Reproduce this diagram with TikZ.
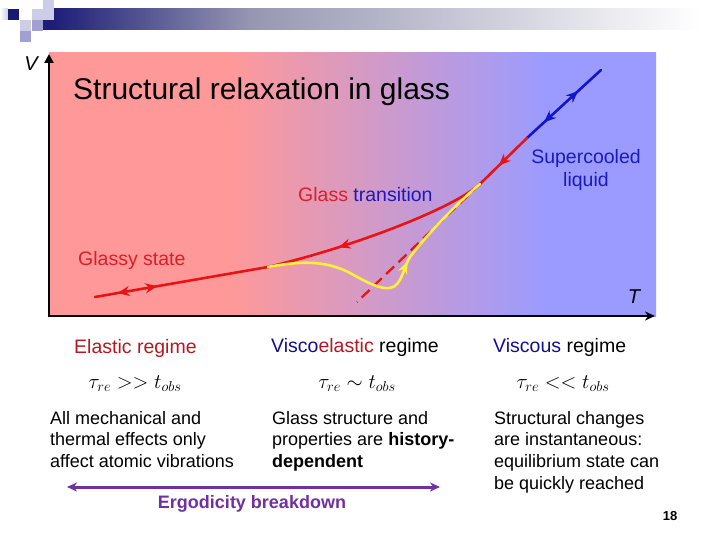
\documentclass[tikz,border=0pt]{standalone}
\usepackage{fontspec}
\setmainfont{Liberation Sans}
\usetikzlibrary{arrows.meta,decorations.markings}
\definecolor{pinkbg}{RGB}{255,153,153}
\definecolor{bluebg}{RGB}{155,155,255}
\definecolor{bannernavy}{RGB}{30,30,120}
\definecolor{bannergrey}{RGB}{150,150,178}
\definecolor{sqnavy}{RGB}{25,25,110}
\definecolor{sqpale}{RGB}{205,205,232}
\definecolor{sqmid}{RGB}{160,160,210}
\definecolor{curvered}{RGB}{232,20,20}
\definecolor{curveblue}{RGB}{20,20,205}
\definecolor{curveyellow}{RGB}{255,238,60}
\definecolor{txtred}{RGB}{220,30,40}
\definecolor{txtdarkred}{RGB}{180,24,32}
\definecolor{txtblue}{RGB}{26,26,190}
\definecolor{txtnavy}{RGB}{16,16,140}
\definecolor{ergpurple}{RGB}{112,48,160}
% plot background: pink, then pink to blue, then blue
\pgfdeclarehorizontalshading{plotbg}{100bp}{color(0bp)=(pinkbg); color(39.9bp)=(pinkbg);
  color(65.9bp)=(bluebg); color(100bp)=(bluebg)}

\begin{document}
\begin{tikzpicture}[x=1pt,y=-1pt,
    tip/.tip={Stealth[length=12pt,width=10pt]},
    curve/.style={line width=2.6pt, line cap=round},
    fwdarrow/.style={decoration={markings,
        mark=at position #1 with {\arrow{tip}}}, postaction={decorate}},
    twoway/.style 2 args={decoration={markings,
        mark=at position #1 with {\arrowreversed{tip}},
        mark=at position #2 with {\arrow{tip}}}, postaction={decorate}},
    lbl/.style={inner sep=0pt, font=\fontsize{19.5}{23}\selectfont},
    desc/.style={inner sep=0pt, anchor=north west, align=left,
        font=\fontsize{18}{21.7}\selectfont},
    formula/.style={inner sep=0pt, font=\fontsize{20}{24}\selectfont}
  ]
    \useasboundingbox (0,0) rectangle (720,540);
    % banner and corner squares
    \fill[bannernavy] (43,9) rectangle (53,30);
    \shade[left color=bannernavy, right color=bannergrey] (53,9) rectangle (250,30);
    \shade[left color=bannergrey, right color=white] (250,9) rectangle (700,30);
    \shade[left color=white, right color=sqpale] (0,9) rectangle (8,20);
    \foreach \x/\y/\c in {8/9/sqnavy, 32/9/sqpale, 43/-2/sqpale, 43/9/sqpale,
                          20/20/sqpale, 32/20/sqmid, 20/31/sqmid}
      \fill[\c] (\x,\y) rectangle ++(11,11);
    % plot background
    \shade[shading=plotbg] (49,53) rectangle (656,316);
    % axes
    \coordinate (origin) at (49,316);
    \coordinate (vtop) at (49,54);
    \coordinate (tright) at (655,316);
    \draw[line width=2.6pt, -{Triangle[length=9pt,width=9pt]}] (49,317.3) -- (vtop);
    \draw[line width=2.6pt, -{Stealth[length=10pt,width=9pt]}] (47.7,316) -- (tright);
    \node[lbl, font=\fontsize{20}{24}\selectfont\itshape] (vlabel) at (31,64) {V};
    \node[lbl, font=\fontsize{20}{24}\selectfont\itshape] (tlabel) at (634,297) {T};
    \node[inner sep=0pt, anchor=west, font=\fontsize{30}{36}\selectfont] (title) at (73,92)
      {Structural relaxation in glass};
    % curve points
    \coordinate (liqtop) at (601,70);
    \coordinate (liqmid) at (527,138);
    \coordinate (tg) at (480,184);
    \coordinate (glstart) at (268,267);
    \coordinate (glend) at (95,297);
    \coordinate (dashend) at (357,302);
    \draw[curve, curveblue, twoway={0.31}{0.77}] (liqtop) -- (liqmid);
    \draw[curve, curvered, fwdarrow=0.6] (liqmid) -- (tg);
    \draw[curve, curvered, fwdarrow=0.68] (tg) .. controls (455,207) and (360,245) .. (glstart);
    \draw[curve, curvered, twoway={0.64}{0.87}] (glstart) -- (glend);
    \draw[curvered, line width=2.3pt, dash pattern=on 11pt off 6pt] (tg) -- (dashend);
    \draw[curve, curveyellow, fwdarrow=0.6] (glstart)
      .. controls (300,261) and (325,260) .. (350,273)
      .. controls (370,284) and (380,289) .. (390,288)
      .. controls (402,286) and (403,268) .. (410,257)
      .. controls (425,237) and (455,205) .. (tg);
    % plot labels
    \node[lbl, anchor=west] (gtrans) at (298,195)
      {\textcolor{txtred}{Glass} \textcolor{txtblue}{transition}};
    \node[lbl, align=center, text=txtblue] (scliquid) at (586,170) {Supercooled\\liquid};
    \node[lbl, anchor=west, text=txtred] (glassy) at (78,260) {Glassy state};
    % regimes
    \node[lbl, anchor=west, text=txtdarkred] (elastic) at (74,348) {Elastic regime};
    \node[lbl, anchor=west] (viscoel) at (271,347)
      {\textcolor{txtnavy}{Visco}\textcolor{txtdarkred}{elastic} regime};
    \node[lbl, anchor=west] (viscous) at (493,347) {\textcolor{txtnavy}{Viscous} regime};
    \node[formula] (felastic) at (135,384) {$\tau_{re} >> t_{obs}$};
    \node[formula] (fviscoel) at (357,384) {$\tau_{re} \sim t_{obs}$};
    \node[formula] (fviscous) at (563,384) {$\tau_{re} << t_{obs}$};
    \node[desc] (delastic) at (50,411)
      {All mechanical and\\ thermal effects only\\ affect atomic vibrations};
    \node[desc] (dviscoel) at (272,411)
      {Glass structure and\\ properties are \textbf{history-}\\ \textbf{dependent}};
    \node[desc] (dviscous) at (494,411)
      {Structural changes\\ are instantaneous:\\ equilibrium state can\\ be quickly reached};
    % ergodicity
    \coordinate (ergleft) at (67,487);
    \coordinate (ergright) at (440,487);
    \draw[ergpurple, line width=3pt, {Stealth[length=10pt,width=9pt]}-{Stealth[length=10pt,width=9pt]}]
      (ergleft) -- (ergright);
    \node[inner sep=0pt, text=ergpurple, font=\fontsize{18}{22}\selectfont\bfseries] (ergo)
      at (252,504) {Ergodicity breakdown};
    \node[inner sep=0pt, font=\fontsize{13}{15}\selectfont\bfseries] (pagenum) at (670,516) {18};
  \end{tikzpicture}
\end{document}
